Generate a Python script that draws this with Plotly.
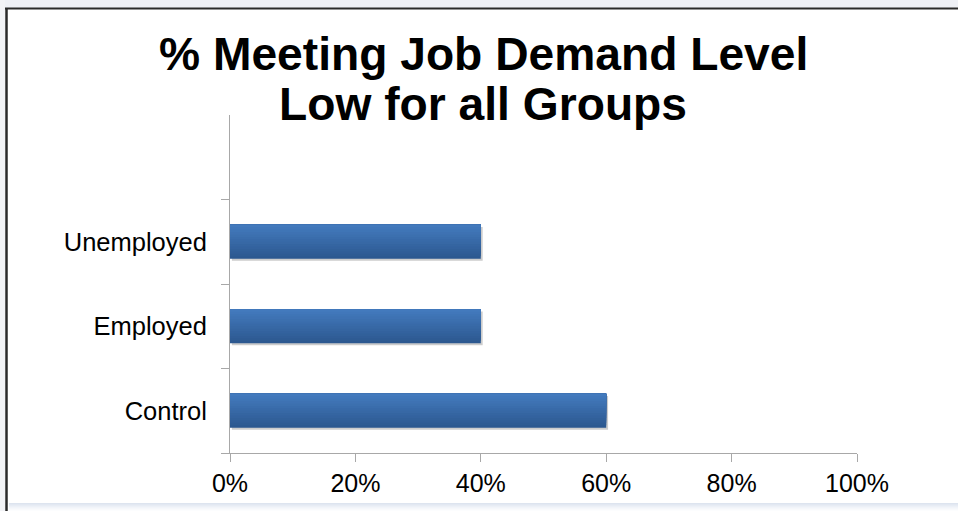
import plotly.graph_objects as go

# Data
groups = ["Control", "Employed", "Unemployed"]
pct_meeting = [0.60, 0.40, 0.40]
x_ticks = [0.0, 0.2, 0.4, 0.6, 0.8, 1.0]
x_tick_labels = ["0%", "20%", "40%", "60%", "80%", "100%"]
title_lines = ["% Meeting Job Demand Level", "Low for all Groups"]

W, H = 958, 511
ML, MR, MT, MB = 230, 101, 115, 58
PW, PH = W - ML - MR, H - MT - MB


def px_x(px):
    return (px - ML) / PW


def px_y(py):
    return (H - MB - py) / PH


def hex_mix(c1, c2, t):
    a = [int(c1[i:i + 2], 16) for i in (1, 3, 5)]
    b = [int(c2[i:i + 2], 16) for i in (1, 3, 5)]
    return "#" + "".join(f"{round(a[k] + (b[k] - a[k]) * t):02x}" for k in range(3))


fig = go.Figure()

BAR_W = 0.40
# soft drop shadow under each bar
fig.add_trace(go.Bar(
    y=groups, x=pct_meeting, orientation="h", base=0.003,
    width=BAR_W, offset=-BAR_W / 2 - 0.025,
    marker=dict(color="rgba(0,0,0,0.20)", line=dict(width=0)),
    hoverinfo="skip", showlegend=False,
))

# bar body: nested layers, each one starting a little higher and reaching the
# top edge, so the stack reads as a smooth dark-to-light vertical gradient
N = 14
dark, light = "#2c5890", "#437abd"
for i in range(N):
    t = i / (N - 1)
    fig.add_trace(go.Bar(
        y=groups, x=pct_meeting, orientation="h",
        width=BAR_W - i * BAR_W / N, offset=-BAR_W / 2 + i * BAR_W / N,
        marker=dict(color=hex_mix(dark, light, t), line=dict(width=0)),
        hoverinfo="skip", showlegend=False,
    ))

axis_grey = "#a8a8a8"
fig.update_layout(
    width=W, height=H,
    margin=dict(l=ML, r=MR, t=MT, b=MB, pad=0),
    barmode="overlay",
    paper_bgcolor="white", plot_bgcolor="white",
    font=dict(family="Liberation Sans, Arial, sans-serif", color="black"),
    xaxis=dict(
        range=[0, 1], tickvals=x_ticks, ticktext=x_tick_labels,
        showgrid=False, zeroline=False,
        showline=True, linecolor=axis_grey, linewidth=1,
        ticks="outside", ticklen=8, tickcolor=axis_grey, tickwidth=1,
        tickfont=dict(size=25, color="black"),
    ),
    yaxis=dict(
        type="category", categoryorder="array", categoryarray=groups,
        range=[-0.5, 3.5], tickson="boundaries",
        showgrid=False, zeroline=False,
        showline=True, linecolor=axis_grey, linewidth=1,
        ticks="outside", ticklen=8, tickcolor=axis_grey, tickwidth=1,
        tickfont=dict(size=25.5, color="black"),
        ticklabelstandoff=17,
    ),
)

# two-line bold title
for line, cy in zip(title_lines, (54, 104)):
    fig.add_annotation(
        text=f"<b>{line}</b>", xref="paper", yref="paper",
        x=px_x(483), y=px_y(cy), xanchor="center", yanchor="middle",
        showarrow=False, font=dict(size=46.2, color="black"),
    )

# slide frame: pale surround, dark top and left edges, bluish bottom glow
shapes = [
    dict(type="rect", x0=px_x(0), x1=px_x(W), y0=px_y(0), y1=px_y(8),
         fillcolor="#eef0f5", line=dict(width=0)),
    dict(type="rect", x0=px_x(0), x1=px_x(5), y0=px_y(0), y1=px_y(H),
         fillcolor="#f2f3f6", line=dict(width=0)),
]
glow = ["#dde4ef", "#e2e8f2", "#e7ecf4", "#ecf0f7", "#f1f4f9", "#f5f7fb", "#f9fafc", "#fcfdfe"]
for k, c in enumerate(glow):
    shapes.append(dict(type="rect", x0=px_x(9), x1=px_x(W),
                       y0=px_y(503 + k), y1=px_y(504 + k),
                       fillcolor=c, line=dict(width=0)))
shapes += [
    dict(type="line", x0=px_x(5), x1=px_x(W), y0=px_y(8.5), y1=px_y(8.5),
         line=dict(color="#2a2a2a", width=2)),
    dict(type="line", x0=px_x(6.5), x1=px_x(6.5), y0=px_y(8), y1=px_y(H),
         line=dict(color="#2a2a2a", width=2.5)),
]
for s in shapes:
    s.update(xref="paper", yref="paper", layer="below")
fig.update_layout(shapes=shapes)

fig.write_html("out.html")
